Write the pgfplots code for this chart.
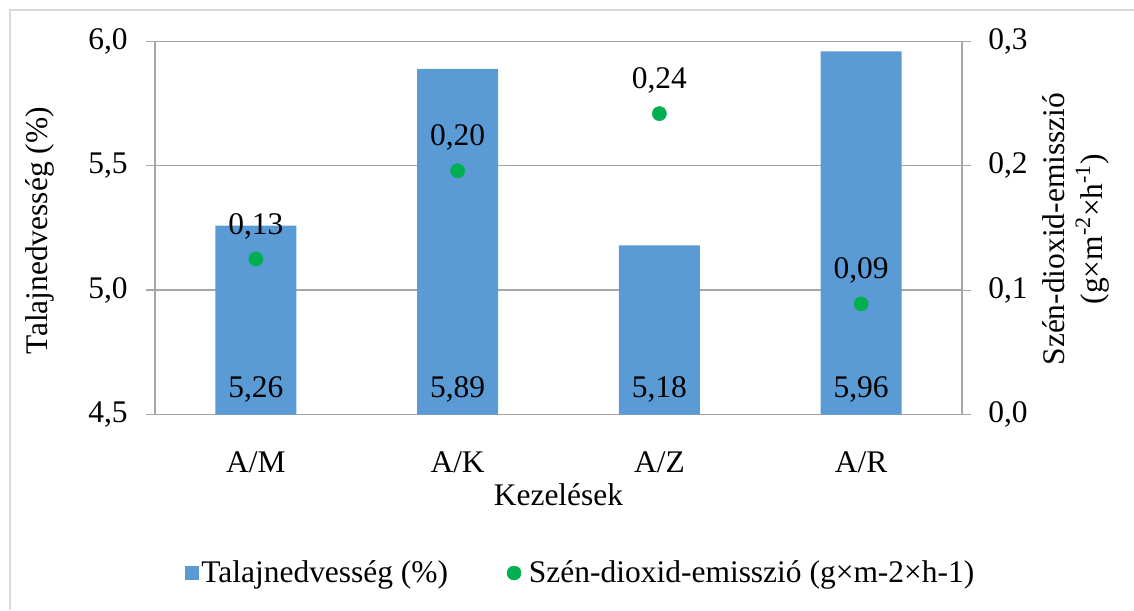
\documentclass[border=0pt]{standalone}
\usepackage{fontspec}
\setmainfont{Liberation Serif}
\usepackage{pgfplots}
\usepackage{pgfplotstable}
\pgfplotsset{compat=1.18}
\definecolor{barblue}{HTML}{5B9BD5}
\definecolor{ptgreen}{HTML}{00B050}
\definecolor{axgray}{HTML}{A6A6A6}
\definecolor{framegray}{HTML}{D9D9D9}
\newcommand\cf{\fontsize{23.6}{28}\selectfont}

\pgfplotstableread{
x y lab
0 5.26 {5,26}
1 5.89 {5,89}
2 5.18 {5,18}
3 5.96 {5,96}
}\bars

\pgfplotstableread{
x y lab
0 0.125 {0,13}
1 0.196 {0,20}
2 0.242 {0,24}
3 0.089 {0,09}
}\pts

\begin{document}
\begin{tikzpicture}[font=\cf]
\begin{axis}[
  at={(0,0)}, anchor=south west, scale only axis,
  width=605.25pt, height=279.75pt,
  xmin=-0.5, xmax=3.5, ymin=4.5, ymax=6,
  axis x line*=bottom, axis y line*=left,
  axis line style={axgray, line width=1pt},
  xtick={0,1,2,3}, xticklabels={A/M,A/K,A/Z,A/R},
  x tick style={draw=none},
  ytick={4.5,5,5.5,6}, yticklabels={{4,5},{5,0},{5,5},{6,0}},
  y tick style={axgray, line width=1pt},
  tick align=outside, major tick length=6.75pt,
  ymajorgrids, grid style={axgray, line width=1pt},
  xticklabel style={anchor=base, yshift=-36.4pt, font=\cf},
  yticklabel style={anchor=east, inner sep=0pt, xshift=-13.5pt, font=\cf},
  xlabel={Kezelések},
  xlabel style={at={(axis description cs:0.5,-0.2453)}, anchor=base, font=\cf},
  ylabel={Talajnedvesség (\%)},
  ylabel style={at={(axis description cs:-0.1425,0.493)}, anchor=center, font=\cf},
]
\addplot[ybar, bar width=60.75pt, fill=barblue, draw=none] table[x=x, y=y]{\bars};
\addplot[draw=none, mark=none, nodes near coords, point meta=explicit symbolic,
  every node near coord/.append style={black, anchor=base, yshift=13.1pt, font=\cf}]
  table[x=x, y expr=4.5, meta=lab]{\bars};
\end{axis}
\begin{axis}[
  at={(0,0)}, anchor=south west, scale only axis,
  width=605.25pt, height=279.75pt,
  xmin=-0.5, xmax=3.5, ymin=0, ymax=0.3,
  axis x line=none, axis y line*=right,
  axis line style={axgray, line width=1pt},
  ytick={0,0.1,0.2,0.3}, yticklabels={{0,0},{0,1},{0,2},{0,3}},
  y tick style={axgray, line width=1pt},
  tick align=outside, major tick length=6.75pt,
  yticklabel style={anchor=west, inner sep=0pt, xshift=12.75pt, font=\cf},
  ylabel={Szén-dioxid-emisszió\\(g×m\textsuperscript{-2}×h\textsuperscript{-1})},
  ylabel style={at={(axis description cs:1.1413,0.497)}, anchor=center, align=center, rotate=0, font=\cf},
  legend style={at={(axis description cs:0.037,-0.425)}, anchor=west, draw=none, fill=none,
    legend columns=2, font=\cf, inner sep=0pt,
    /tikz/every even column/.append style={column sep=42pt}},
  legend cell align=left,
]
\addlegendimage{legend image code/.code={\fill[barblue] (0pt,-4.9pt) rectangle (9.75pt,4.9pt);}}
\addlegendentry{Talajnedvesség (\%)}
\addplot[only marks, mark=*, mark size=5.3pt, color=ptgreen,
  legend image code/.code={\fill[ptgreen] (5.25pt,0pt) circle (5.25pt); \path (14.25pt,0pt);},
  nodes near coords, point meta=explicit symbolic,
  every node near coord/.append style={black, anchor=base, yshift=18.75pt, font=\cf}]
  table[x=x, y=y, meta=lab]{\pts};
\addlegendentry{Szén-dioxid-emisszió (g×m-2×h-1)}
\end{axis}
\draw[framegray, line width=1pt] (-108.75pt,-146.625pt) -- (-108.75pt,303.375pt) -- (734.25pt,303.375pt);
\pgfresetboundingbox
\useasboundingbox (-116.25pt,-146.625pt) rectangle (734.25pt,310.875pt);
\end{tikzpicture}
\end{document}
